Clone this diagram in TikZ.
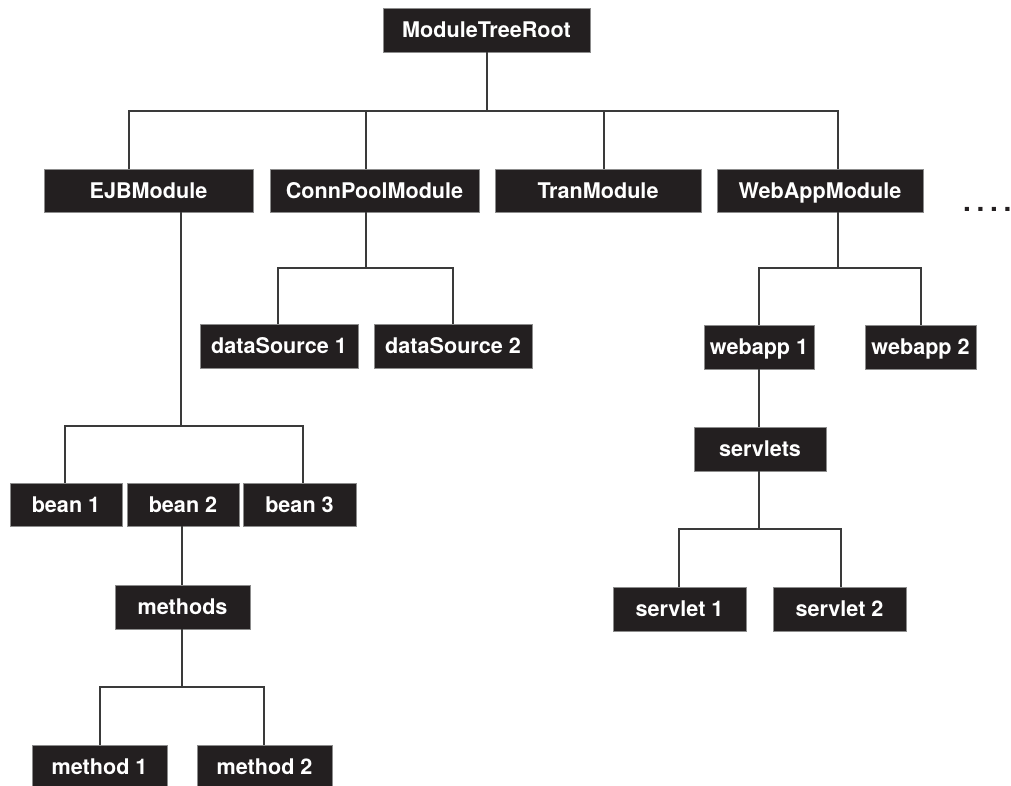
\documentclass[tikz,border=0pt]{standalone}
\usepackage{fontspec}
\setmainfont{TeX Gyre Heros}
\definecolor{boxblack}{HTML}{231F20}
\definecolor{linegray}{HTML}{3A3A3A}
\begin{document}
\begin{tikzpicture}[x=1pt,y=-1pt,
  box/.style={fill=boxblack, draw=black!45, line width=0.6pt, text=white,
    font=\bfseries\fontsize{21.6}{24}\selectfont, inner sep=0pt,
    text height=15.5pt, text depth=0pt, minimum height=44pt},
  link/.style={draw=linegray, line width=1.5pt}]
\useasboundingbox (0,0) rectangle (1011,786);
\fill[white] (0,0) rectangle (1011,786);

% nodes
\node[box, minimum width=207pt] (root) at (486.5,30) {ModuleTreeRoot};
\node[box, minimum width=209pt, minimum height=43pt] (ejb) at (148.5,190.5) {EJBModule};
\node[box, minimum width=209pt, minimum height=43pt] (cp) at (374.5,190.5) {ConnPoolModule};
\node[box, minimum width=206pt, minimum height=43pt] (tran) at (598,190.5) {TranModule};
\node[box, minimum width=206pt, minimum height=43pt] (web) at (820,190.5) {WebAppModule};
\node[anchor=base west, text=boxblack, inner sep=0pt,
  font=\bfseries\fontsize{28}{30}\selectfont] (dots) at (963,212) {.\kern5.7pt.\kern5.7pt.\kern5.7pt.};

\node[box, minimum width=158pt] (ds1) at (279,346) {dataSource 1};
\node[box, minimum width=158pt] (ds2) at (453,346) {dataSource 2};

\node[box, minimum width=110pt] (wa1) at (759,347) {webapp 1};
\node[box, minimum width=111pt] (wa2) at (920.5,347) {webapp 2};
\node[box, minimum width=132pt] (svs) at (760,449) {servlets};
\node[box, minimum width=133pt] (sv1) at (679.5,609) {servlet 1};
\node[box, minimum width=133pt] (sv2) at (839.5,609) {servlet 2};

\node[box, minimum width=112pt, minimum height=43pt] (b1) at (66,504.5) {bean 1};
\node[box, minimum width=112pt, minimum height=43pt] (b2) at (183,504.5) {bean 2};
\node[box, minimum width=113pt, minimum height=43pt] (b3) at (299.5,504.5) {bean 3};
\node[box, minimum width=135pt] (mts) at (182.5,607) {methods};
\node[box, minimum width=135pt] (m1) at (99.5,767) {method 1};
\node[box, minimum width=135pt] (m2) at (264.5,767) {method 2};

% bus coordinates
\coordinate (rootbus) at (487,111);
\coordinate (cpbus) at (366,268);
\coordinate (webbus) at (838,268);
\coordinate (ejbbus) at (181,426);
\coordinate (mtsbus) at (182,687);
\coordinate (svsbus) at (759,529);

% connectors
\draw[link] (root.south -| rootbus) -- (rootbus);
\draw[link] ([xshift=-19.5pt]ejb.north) |- (rootbus) -| ([xshift=18pt]web.north);
\draw[link] ([xshift=-8.5pt]cp.north) -- ([xshift=-8.5pt]cp.north |- rootbus);
\draw[link] ([xshift=6pt]tran.north) -- ([xshift=6pt]tran.north |- rootbus);

\draw[link] (cp.south -| cpbus) -- (cpbus);
\draw[link] ([xshift=-1pt]ds1.north) |- (cpbus) -| (ds2.north);

\draw[link] (web.south -| webbus) -- (webbus);
\draw[link] (wa1.north) |- (webbus) -| ([xshift=0.5pt]wa2.north);
\draw[link] (wa1.south) -- (wa1.south |- svs.north);
\draw[link] (svs.south -| svsbus) -- (svsbus);
\draw[link] ([xshift=-0.5pt]sv1.north) |- (svsbus) -| ([xshift=1.5pt]sv2.north);

\draw[link] (ejb.south -| ejbbus) -- (ejbbus);
\draw[link] ([xshift=-1pt]b1.north) |- (ejbbus) -| ([xshift=3.5pt]b3.north);
\draw[link] ([xshift=-1pt]b2.south) -- ([xshift=-1pt]b2.south |- mts.north);
\draw[link] (mts.south -| mtsbus) -- (mtsbus);
\draw[link] ([xshift=0.5pt]m1.north) |- (mtsbus) -| ([xshift=-0.5pt]m2.north);
\end{tikzpicture}
\end{document}
